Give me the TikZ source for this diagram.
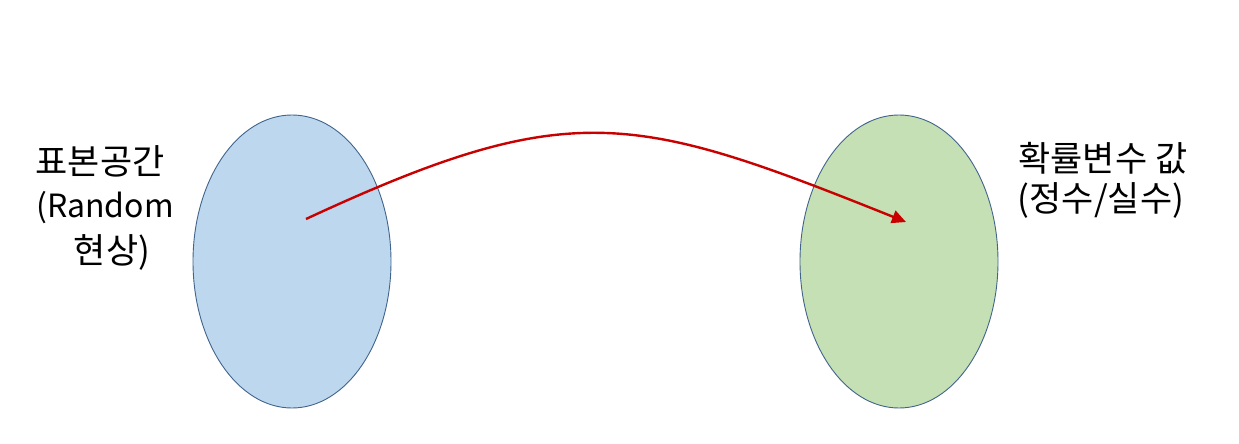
\documentclass[tikz,border=0pt]{standalone}
\usepackage{fontspec}
\newfontfamily\kr{Noto Sans CJK KR}
\usetikzlibrary{arrows.meta}
\definecolor{blueFill}{RGB}{189,215,238}
\definecolor{greenFill}{RGB}{197,224,180}
\definecolor{edgeBlue}{RGB}{65,100,140}
\definecolor{arrowRed}{RGB}{200,0,0}
\tikzset{
  setblob/.style={draw=edgeBlue, line width=0.9pt},
  lbl/.style={font=\kr\fontsize{35}{40}\selectfont, inner sep=0pt, anchor=center},
  lbllat/.style={font=\kr\fontsize{32}{38}\selectfont, inner sep=0pt, anchor=center},
  maparrow/.style={draw=arrowRed, line width=2.4pt, -{Triangle[length=14pt,width=13pt]}}
}
\begin{document}
\begin{tikzpicture}[x=1pt,y=-1pt]
\useasboundingbox (0,0) rectangle (1239,444);
\fill[white] (0,0) rectangle (1239,444);
\draw[setblob, fill=blueFill] (292,261.5) ellipse [x radius=99, y radius=146.5];
\draw[setblob, fill=greenFill] (899,261.5) ellipse [x radius=99, y radius=146.5];
\coordinate (src) at (306,219);
\coordinate (dst) at (906,222);
\draw[maparrow] (src) .. controls (571,96) and (634,113) .. (dst);
\node[lbl] (l1) at (100,161) {표본공간};
\node[lbllat] (l2) at (105,208) {(Random};
\node[lbl] (l3) at (112,252) {현상)};
\node[lbl] (r1) at (1103,158) {확률변수 값};
\node[lbl] (r2) at (1101,200) {(정수/실수)};
\end{tikzpicture}
\end{document}
